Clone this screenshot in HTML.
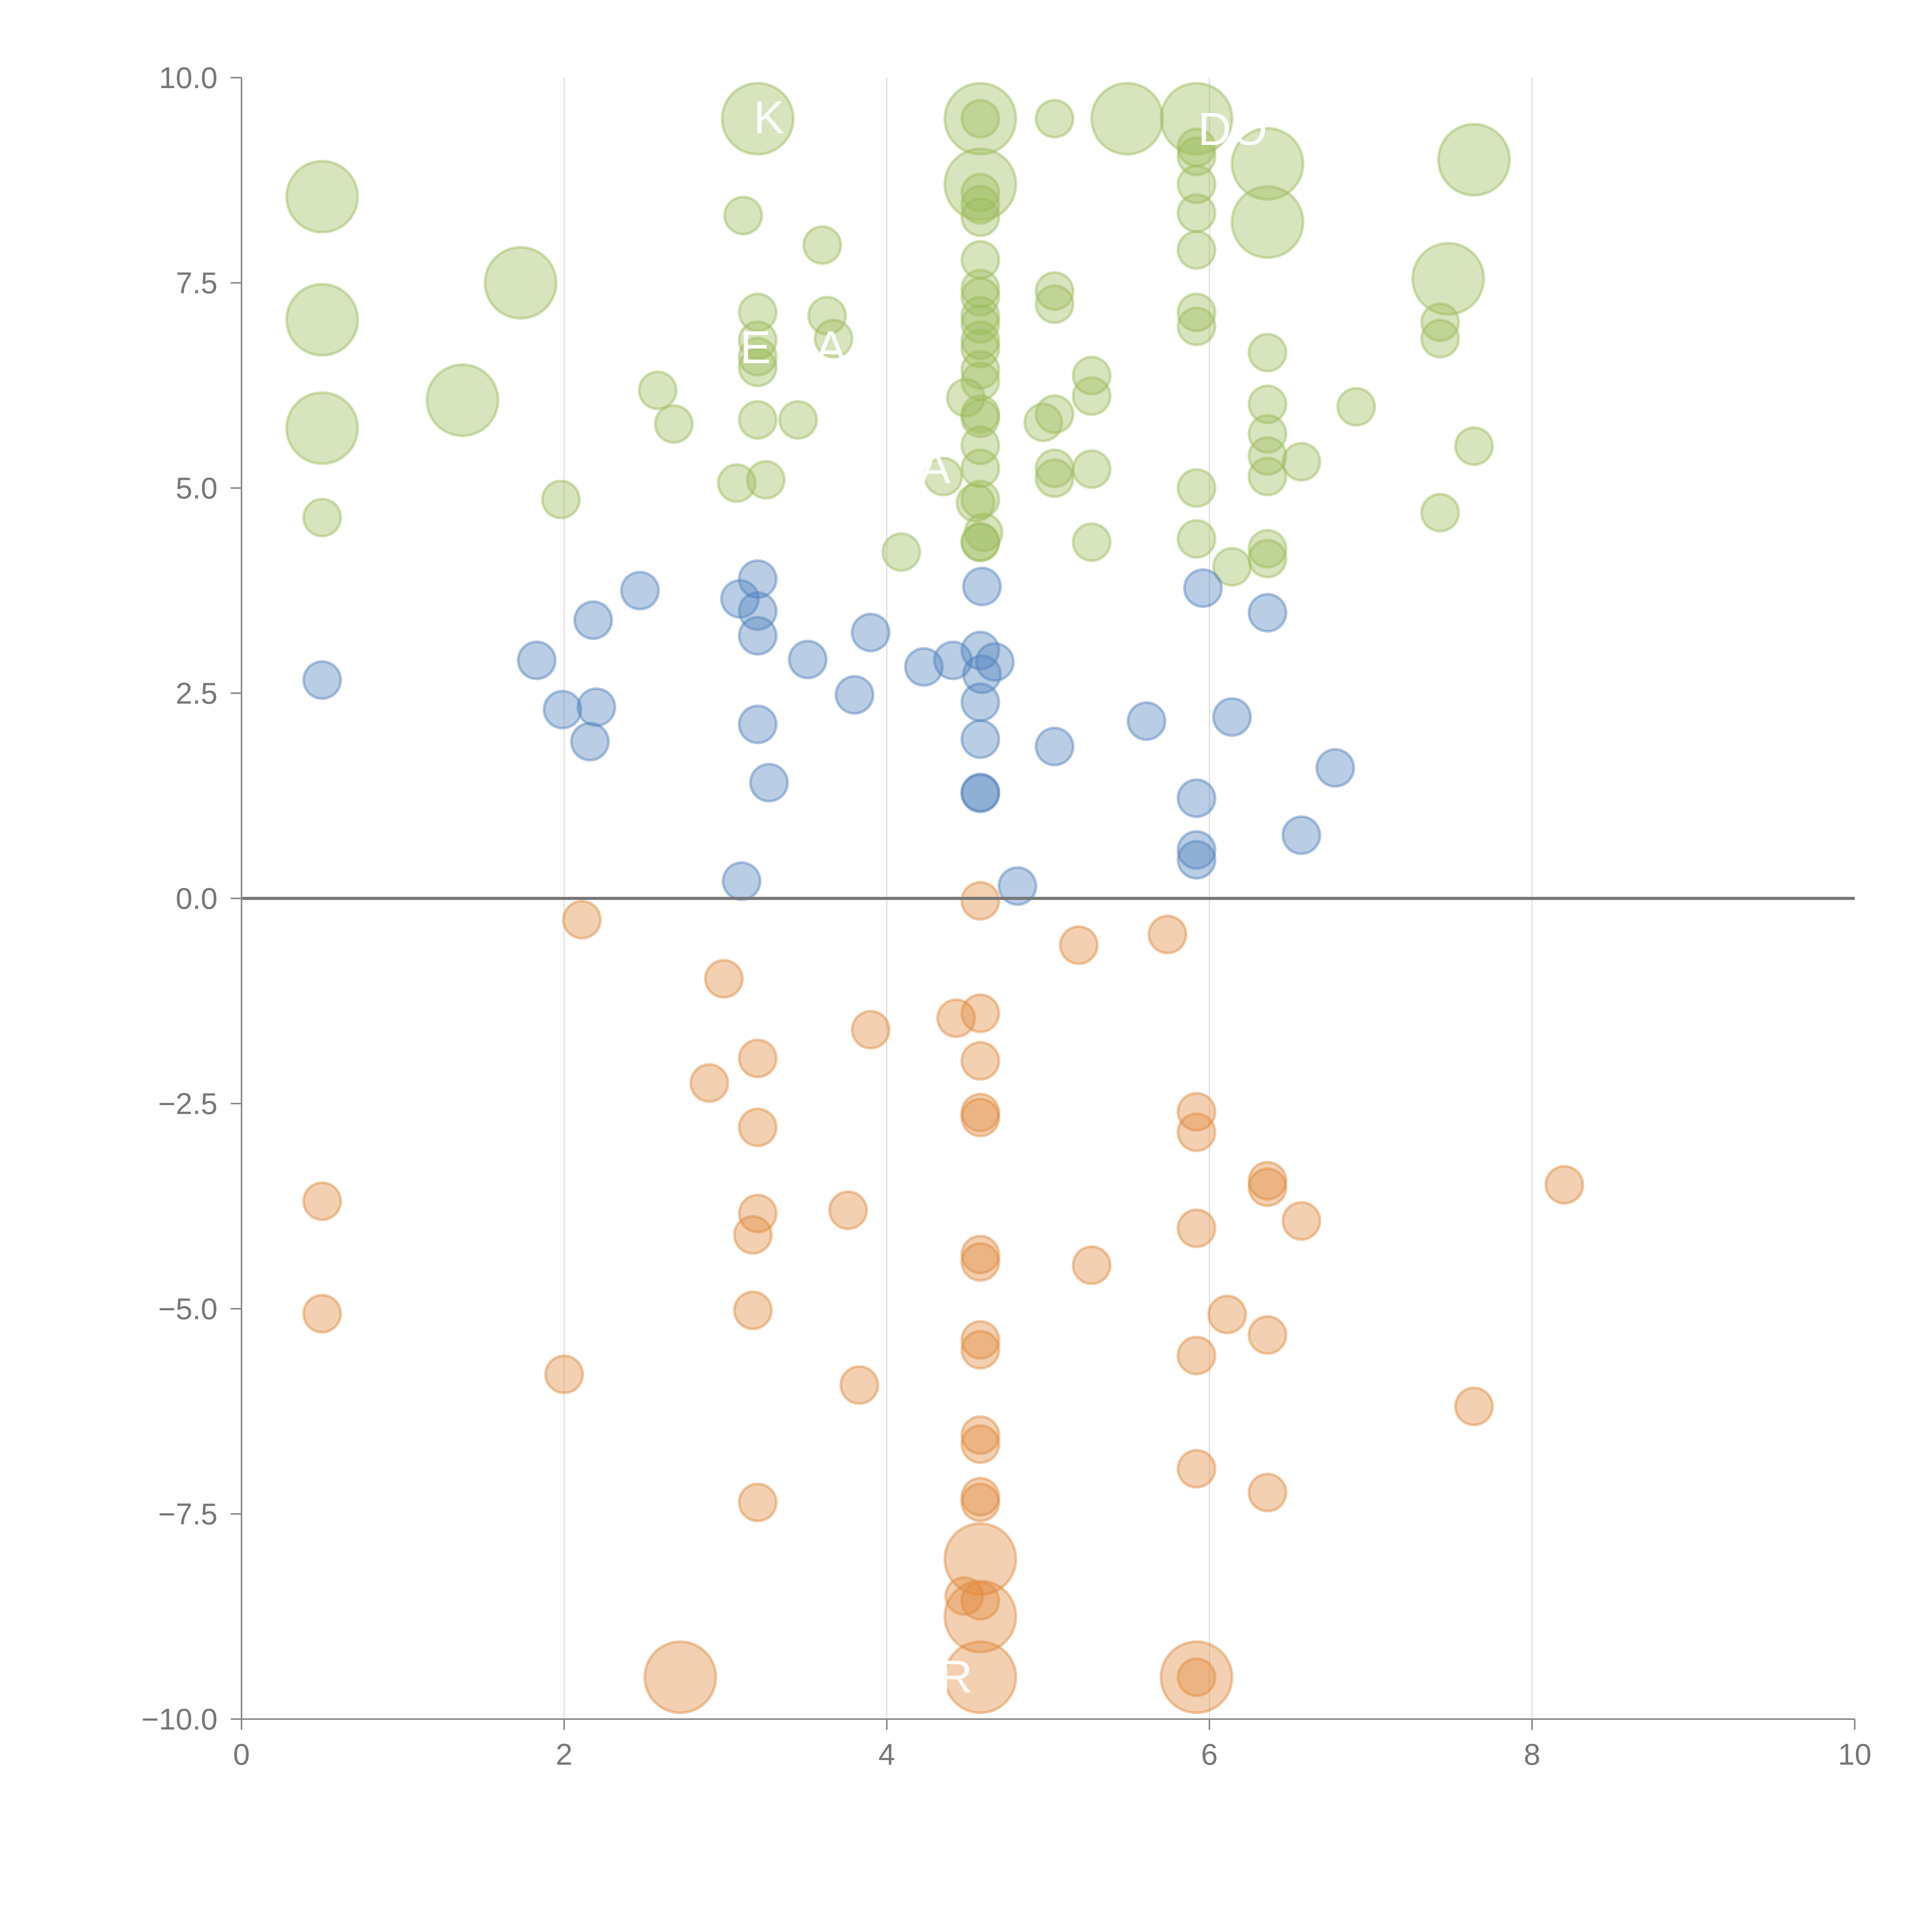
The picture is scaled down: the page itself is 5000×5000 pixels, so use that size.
<!DOCTYPE html>
<html><head><meta charset="utf-8">
<style>html,body{margin:0;padding:0;background:#fff}svg{display:block}</style></head>
<body>
<svg id="chart" width="5000" height="5000" viewBox="0 0 5000 5000" xmlns="http://www.w3.org/2000/svg" font-family="Liberation Sans, sans-serif"></svg>
<script>
const xTicks=[0,2,4,6,8,10];
const xTickLabels=["0","2","4","6","8","10"];
const yTicks=[10,7.5,5,2.5,0,-2.5,-5,-7.5,-10];
const yTickLabels=["10.0","7.5","5.0","2.5","0.0","\u22122.5","\u22125.0","\u22127.5","\u221210.0"];
// size: 1 = small, 2 = large
const greenX=[0.5,0.5,0.5,0.5,1.73,1.37,1.98,2.58,2.68,3.07,3.25,3.11,3.2,3.2,3.2,3.2,3.2,3.2,3.45,3.6,3.63,3.67,4.09,4.35,4.49,4.58,4.58,4.58,4.58,4.58,4.58,4.58,4.58,4.58,4.58,4.58,4.58,4.58,4.58,4.58,4.58,4.58,4.58,4.58,4.58,4.55,4.6,4.58,4.58,5.04,5.04,5.04,5.04,4.97,5.04,5.04,5.27,5.27,5.27,5.27,5.49,5.92,5.92,5.92,5.92,5.92,5.92,5.92,5.92,5.92,5.92,6.14,6.36,6.36,6.36,6.36,6.36,6.36,6.36,6.36,6.36,6.57,6.91,7.43,7.43,7.43,7.48,7.64,7.64];
const greenY=[8.55,7.05,5.73,4.64,7.5,6.07,4.86,6.19,5.78,5.06,5.1,8.32,9.5,7.14,6.8,6.6,6.47,5.83,5.83,7.96,7.1,6.82,4.22,5.14,6.1,9.5,9.5,8.7,8.6,8.45,8.3,7.78,7.43,7.33,7.1,7.0,6.8,6.7,6.44,6.3,5.9,5.85,5.52,5.24,4.86,4.82,4.46,4.34,4.34,9.5,7.4,7.24,5.9,5.8,5.24,5.12,6.37,6.12,5.23,4.34,9.5,9.5,9.15,9.04,8.7,8.35,7.9,7.14,6.97,5.0,4.38,4.04,8.95,8.24,6.65,6.02,5.66,5.39,5.14,4.26,4.14,5.32,5.99,7.02,6.82,4.7,7.55,9.0,5.51];
const greenS=[2,2,2,1,2,2,1,1,1,1,1,1,2,1,1,1,1,1,1,1,1,1,1,1,1,2,1,2,1,1,1,1,1,1,1,1,1,1,1,1,1,1,1,1,1,1,1,1,1,1,1,1,1,1,1,1,1,1,1,1,2,2,1,1,1,1,1,1,1,1,1,1,2,2,1,1,1,1,1,1,1,1,1,1,1,1,2,2,1];
const blueX=[0.5,1.83,1.99,2.2,2.16,2.18,2.47,3.09,3.2,3.2,3.2,3.2,3.27,3.1,3.51,3.8,3.9,4.23,4.41,4.58,4.59,4.67,4.59,4.58,4.58,4.58,4.58,4.81,5.04,5.61,5.96,5.92,5.92,5.92,6.14,6.36,6.57,6.78];
const blueY=[2.66,2.9,2.3,2.33,1.91,3.39,3.75,3.65,3.89,3.5,3.2,2.12,1.41,0.21,2.91,2.48,3.24,2.82,2.9,3.02,3.8,2.88,2.73,2.39,1.94,1.29,1.28,0.15,1.85,2.16,3.78,1.22,0.59,0.47,2.21,3.48,0.77,1.59];
const orangeX=[0.5,0.5,2.0,2.11,2.9,2.99,3.2,3.2,3.2,3.17,3.17,3.2,3.76,3.83,3.9,4.43,4.58,4.58,4.58,4.58,4.58,4.58,4.58,4.58,4.58,4.58,4.58,4.58,4.58,4.48,4.58,4.58,4.58,4.58,2.72,5.92,5.92,5.19,5.27,5.74,5.92,5.92,5.92,5.92,5.92,6.11,6.36,6.36,6.36,6.36,6.57,7.64,8.2];
const orangeY=[-3.69,-5.06,-5.8,-0.26,-2.25,-0.98,-1.95,-2.79,-3.84,-4.1,-5.02,-7.36,-3.8,-5.93,-1.6,-1.46,-0.03,-1.4,-1.98,-2.61,-2.67,-4.34,-4.43,-5.38,-5.5,-6.54,-6.65,-7.29,-7.36,-8.5,-8.56,-8.05,-8.75,-9.49,-9.49,-9.49,-9.49,-0.57,-4.47,-0.44,-2.6,-2.85,-4.02,-5.57,-6.95,-5.07,-3.44,-3.52,-5.32,-7.24,-3.93,-6.19,-3.49];
const orangeS=[1,1,1,1,1,1,1,1,1,1,1,1,1,1,1,1,1,1,1,1,1,1,1,1,1,1,1,1,1,1,1,2,2,2,2,2,1,1,1,1,1,1,1,1,1,1,1,1,1,1,1,1,1];

const NS="http://www.w3.org/2000/svg";
const svg=document.getElementById('chart');
const X0=625,X1=4800,Y0=201,Y1=4449;
const sx=v=>X0+(v-0)/(10-0)*(X1-X0);
const sy=v=>Y1-(v-(-10))/(20)*(Y1-Y0);
const rad=s=>s===2?92:48;
function mk(tag,attrs,parent){const e=document.createElementNS(NS,tag);for(const k in attrs)e.setAttribute(k,attrs[k]);(parent||svg).appendChild(e);return e;}

const grid=mk('g',{});


xTicks.forEach(t=>{if(t>0&&t<10){const l=mk('line',{x1:sx(t),x2:sx(t),y1:Y0,y2:Y1,stroke:'#dcdcdc','stroke-width':3},grid);

}});

function series(xs,ys,ss,fill,stroke,name){
  const g=mk('g',{});
  
  
  xs.forEach((x,i)=>{
    const c=mk('circle',{cx:sx(x),cy:sy(ys[i]),r:rad(ss?ss[i]:1),fill:fill,'fill-opacity':0.4,stroke:stroke,'stroke-opacity':0.45,'stroke-width':7},g);
    
    
  });
}
series(greenX,greenY,greenS,'#9bbb59','#9bbb59','green');
series(blueX,blueY,null,'#4f81bd','#4f81bd','blue');
series(orangeX,orangeY,orangeS,'#e08a3c','#e08a3c','orange');

const z=mk('line',{x1:X0,x2:X1,y1:sy(0),y2:sy(0),stroke:'#777','stroke-width':8});



const ax=mk('g',{stroke:'#888','stroke-width':4});


mk('line',{x1:X0,x2:X0,y1:Y0,y2:Y1},ax);
mk('line',{x1:X0,x2:X1,y1:Y1,y2:Y1},ax);
yTicks.forEach((t,i)=>{
  mk('line',{x1:X0-28,x2:X0,y1:sy(t),y2:sy(t)},ax);
  const tx=mk('text',{x:X0-62,y:sy(t)+27,'text-anchor':'end','font-size':78,fill:'#777',stroke:'none'});
  tx.textContent=yTickLabels[i];
  
  
});
xTicks.forEach((t,i)=>{
  mk('line',{x1:sx(t),x2:sx(t),y1:Y1,y2:Y1+28},ax);
  const tx=mk('text',{x:sx(t),y:Y1+118,'text-anchor':'middle','font-size':78,fill:'#777',stroke:'none'});
  tx.textContent=xTickLabels[i];
  
  
});

const labs=[["K",1950,345],["DO",3100,375],["E",1915,940],["A",2110,940],["A",2380,1250],["R",2430,4380]];
labs.forEach(a=>{const t=mk('text',{x:a[1],y:a[2],'font-size':120,fill:'#fff'});t.textContent=a[0];

});
</script>
</body></html>
